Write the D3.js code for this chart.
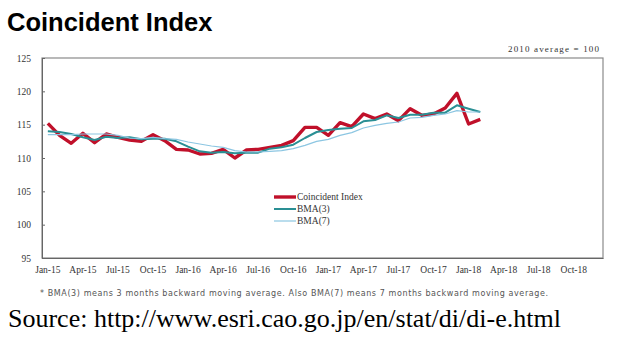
<!DOCTYPE html>
<html>
<head>
<meta charset="utf-8">
<script src="https://cdn.jsdelivr.net/npm/d3@7"></script>
<style>
  body { margin: 0; background: #fff; }
  svg { display: block; }
</style>
</head>
<body>
<svg id="chart" width="618" height="353"></svg>
<script>
// months on the x axis, Jan-15 .. Dec-18
const months = d3.timeMonth.range(new Date(2015, 0, 1), new Date(2019, 0, 1)).map(d3.timeFormat("%b-%y"));
const tickLabels = ["Jan-15", "Apr-15", "Jul-15", "Oct-15", "Jan-16", "Apr-16", "Jul-16", "Oct-16",
  "Jan-17", "Apr-17", "Jul-17", "Oct-17", "Jan-18", "Apr-18", "Jul-18", "Oct-18"];
const yTicks = [95, 100, 105, 110, 115, 120, 125];

// Jan-15 .. Feb-18
const coincident = [115.2, 113.4, 112.2, 113.7, 112.3, 113.6, 113.1, 112.7, 112.5, 113.5, 112.6, 111.3,
  111.2, 110.6, 110.7, 111.3, 110.0, 111.2, 111.3, 111.6, 111.9, 112.6, 114.6, 114.6,
  113.4, 115.3, 114.7, 116.6, 115.9, 116.6, 115.6, 117.4, 116.4, 116.6, 117.5, 119.7,
  115.1, 115.8];
const bma3 = [114.0, 113.9, 113.6, 113.1, 112.7, 113.2, 113.0, 113.1, 112.8, 112.9, 112.9, 112.5,
  111.7, 111.0, 110.8, 110.9, 110.7, 110.8, 110.8, 111.4, 111.6, 112.0, 113.0, 113.9,
  114.2, 114.4, 114.5, 115.5, 115.7, 116.4, 116.0, 116.5, 116.5, 116.8, 116.8, 117.9,
  117.4, 116.9];
const bma7 = [113.5, 113.5, 113.5, 113.6, 113.6, 113.6, 113.4, 113.0, 112.9, 113.1, 112.9, 112.8,
  112.4, 112.1, 111.8, 111.6, 111.1, 110.9, 110.9, 111.0, 111.1, 111.4, 111.9, 112.5,
  112.8, 113.4, 113.8, 114.5, 114.9, 115.2, 115.4, 116.0, 116.1, 116.4, 116.6, 117.1,
  116.9, 116.9];

const series = [
  { name: "Coincident Index", values: coincident, color: "#c0102a", width: 3.4 },
  { name: "BMA(3)", values: bma3, color: "#2a8f94", width: 2 },
  { name: "BMA(7)", values: bma7, color: "#8cc6e2", width: 1.2 }
];

const svg = d3.select("#chart");
const margin = { left: 42, right: 15, top: 58, bottom: 95 };
const W = 618, H = 353;

const x = d3.scaleBand().domain(months).range([margin.left, W - margin.right]).padding(0);
const y = d3.scaleLinear().domain([95, 125]).range([H - margin.bottom, margin.top]);
const cx = m => x(m) + x.bandwidth() / 2;

// title
svg.append("text")
  .attr("x", 7).attr("y", 31)
  .style("font-family", "'Liberation Sans', Arial, sans-serif")
  .style("font-weight", "bold").style("font-size", "25.5px")
  .text("Coincident Index");

svg.append("text")
  .attr("x", 599).attr("y", 52).attr("text-anchor", "end")
  .style("font-family", "'Liberation Serif', serif").style("font-size", "9px")
  .attr("fill", "#333")
  .attr("textLength", 91)
  .text("2010 average = 100");

// frame
svg.append("rect")
  .attr("x", margin.left).attr("y", margin.top)
  .attr("width", W - margin.left - margin.right)
  .attr("height", H - margin.top - margin.bottom)
  .attr("fill", "none").attr("stroke", "#8a8a8a").attr("stroke-width", 1.2);

// y axis
const yAxis = svg.append("g")
  .attr("transform", `translate(${margin.left},0)`)
  .call(d3.axisLeft(y).tickValues(yTicks).tickSizeInner(-3).tickSizeOuter(0).tickPadding(11));
yAxis.select(".domain").attr("stroke", "#666");
yAxis.selectAll(".tick line").attr("stroke", "#666");
yAxis.selectAll("text")
  .style("font-family", "'Liberation Serif', serif").style("font-size", "9.5px").attr("fill", "#333");

// x axis
const xAxis = svg.append("g")
  .attr("transform", `translate(0,${H - margin.bottom})`)
  .call(d3.axisBottom(x).tickValues(tickLabels).tickSize(0).tickPadding(8));
xAxis.select(".domain").attr("stroke", "#666");
xAxis.selectAll("text")
  .style("font-family", "'Liberation Serif', serif").style("font-size", "9.5px").attr("fill", "#333");

// lines
const line = d3.line().x((d, i) => cx(months[i])).y(d => y(d));
svg.append("g").selectAll("path")
  .data(series)
  .join("path")
  .attr("d", d => line(d.values))
  .attr("fill", "none")
  .attr("stroke", d => d.color)
  .attr("stroke-width", d => d.width)
  .attr("stroke-linejoin", "round");

// legend
const legend = svg.append("g").attr("transform", "translate(274,197)");
const item = legend.selectAll("g").data(series).join("g")
  .attr("transform", (d, i) => `translate(0,${i * 12})`);
item.append("line")
  .attr("x1", 0).attr("x2", 22)
  .attr("stroke", d => d.color).attr("stroke-width", d => d.width);
item.append("text")
  .attr("x", 23).attr("y", 3)
  .style("font-family", "'Liberation Serif', serif").style("font-size", "9.5px").attr("fill", "#333")
  .text(d => d.name);

// footnote
svg.append("text")
  .attr("x", 40).attr("y", 296)
  .style("font-family", "'DejaVu Sans', sans-serif").style("font-size", "8px")
  .attr("fill", "#555")
  .attr("textLength", 508)
  .text("* BMA(3) means 3 months backward moving average. Also BMA(7) means 7 months backward moving average.");

svg.append("text")
  .attr("x", 8).attr("y", 327)
  .style("font-family", "'Liberation Serif', 'Times New Roman', serif").style("font-size", "26px")
  .text("Source: http://www.esri.cao.go.jp/en/stat/di/di-e.html");
</script>
</body>
</html>
